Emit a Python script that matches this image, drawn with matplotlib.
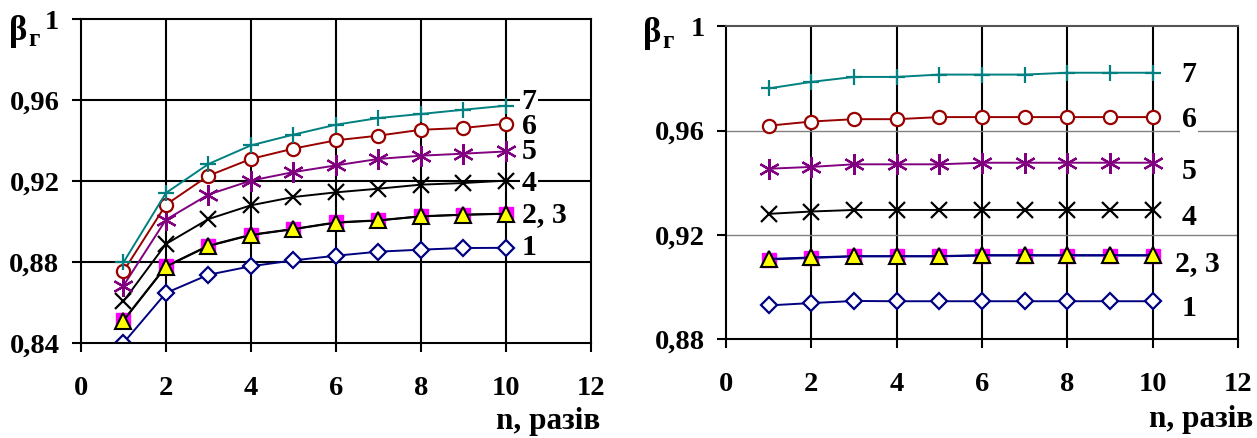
import matplotlib
matplotlib.use("Agg")
import matplotlib.pyplot as plt

plt.rcParams["font.family"] = ["Liberation Serif", "DejaVu Serif"]
plt.rcParams["font.weight"] = "bold"

n = [1, 2, 3, 4, 5, 6, 7, 8, 9, 10]

# left panel: beta_g vs n
left_1 = [0.840, 0.8647, 0.8737, 0.8779, 0.8808, 0.8831, 0.8851, 0.8861, 0.8869, 0.8870]
left_2 = [0.8512, 0.8779, 0.8881, 0.8935, 0.8963, 0.8996, 0.9006, 0.9026, 0.9034, 0.9039]
left_3 = [0.8510, 0.8777, 0.8879, 0.8933, 0.8962, 0.8994, 0.9005, 0.9025, 0.9033, 0.9038]
left_4 = [0.8606, 0.8889, 0.9012, 0.9080, 0.9121, 0.9144, 0.9162, 0.9182, 0.9190, 0.9202]
left_5 = [0.8683, 0.9009, 0.9133, 0.9202, 0.9244, 0.9277, 0.9309, 0.9325, 0.9335, 0.9346]
left_6 = [0.8754, 0.9083, 0.9226, 0.9309, 0.9360, 0.9401, 0.9424, 0.9453, 0.9462, 0.9483]
left_7 = [0.8798, 0.9141, 0.9284, 0.9376, 0.9429, 0.9478, 0.9511, 0.9531, 0.9552, 0.9572]

# right panel
right_1 = [0.8930, 0.8939, 0.8947, 0.8946, 0.8946, 0.8946, 0.8946, 0.8946, 0.8946, 0.8946]
right_2 = [0.9106, 0.9112, 0.9118, 0.9118, 0.9118, 0.9121, 0.9121, 0.9121, 0.9121, 0.9121]
right_3 = [0.9108, 0.9114, 0.9119, 0.9119, 0.9119, 0.9123, 0.9123, 0.9123, 0.9123, 0.9123]
right_4 = [0.9281, 0.9290, 0.9296, 0.9296, 0.9296, 0.9296, 0.9296, 0.9296, 0.9296, 0.9296]
right_5 = [0.9454, 0.9461, 0.9471, 0.9471, 0.9471, 0.9477, 0.9477, 0.9477, 0.9477, 0.9477]
right_6 = [0.9619, 0.9635, 0.9644, 0.9644, 0.9652, 0.9652, 0.9652, 0.9652, 0.9652, 0.9652]
right_7 = [0.9762, 0.9787, 0.9806, 0.9806, 0.9815, 0.9815, 0.9815, 0.9822, 0.9822, 0.9822]

curve_names = ["7", "6", "5", "4", "2, 3", "1"]
left_label_x = [10.37, 10.37, 10.37, 10.37, 10.37, 10.37]
left_label_y = [0.9592, 0.9468, 0.9344, 0.9189, 0.9032, 0.8873]
right_label_x = [10.68, 10.68, 10.68, 10.68, 10.52, 10.68]
right_label_y = [0.9814, 0.9641, 0.9443, 0.9266, 0.9091, 0.8920]

left_yticks = [0.84, 0.88, 0.92, 0.96, 1.0]
left_yticklabels = ["0,84", "0,88", "0,92", "0,96", "1"]
right_yticks = [0.88, 0.92, 0.96, 1.0]
right_yticklabels = ["0,88", "0,92", "0,96", "1"]
xticks = [0, 2, 4, 6, 8, 10, 12]

NAVY = "#000080"
MAGENTA = "#FF00FF"
PURPLE = "#800080"
DARKRED = "#990000"
TEAL = "#008080"
FS = 20.5


def draw_series(ax, s1, s2, s3, s4, s5, s6, s7, line23):
    lw = 1.4
    ax.plot(n, s1, color=NAVY, lw=lw, marker="D", ms=8.5, mfc="white", mec=NAVY, mew=1.6)
    ax.plot(n, s2, color=line23, lw=lw, marker="s", ms=10, mfc=MAGENTA, mec=MAGENTA)
    ax.plot(n, s3, color=line23, lw=lw, marker="^", ms=11.5, mfc="yellow", mec="black", mew=1.5)
    ax.plot(n, s4, color="black", lw=lw, marker="x", ms=11, mec="black", mew=1.6)
    ax.plot(n, s5, color=PURPLE, lw=lw, marker=(6, 2, 0), ms=15, mec=PURPLE, mew=1.6)
    ax.plot(n, s6, color=DARKRED, lw=lw, marker="o", ms=9.5, mfc="white", mec=DARKRED, mew=1.6)
    ax.plot(n, s7, color=TEAL, lw=lw, marker="+", ms=12, mec=TEAL, mew=1.6)


def style_axes(ax, yticks, yticklabels, ylo, hgrid_color, hgrid_lw, top_color):
    ax.set_xlim(0, 12)
    ax.set_ylim(ylo, 1.0)
    ax.set_xticks(xticks)
    ax.set_xticklabels([str(t) for t in xticks], fontsize=FS, fontweight="bold")
    ax.set_yticks(yticks)
    ax.set_yticklabels(yticklabels, fontsize=FS, fontweight="bold")
    ax.tick_params(axis="x", direction="out", length=6.5, width=1.5, pad=17)
    ax.tick_params(axis="y", direction="out", length=6.5, width=1.5, pad=9)
    for x in xticks[1:-1]:
        ax.axvline(x, color="black", lw=1.5, zorder=1)
    for y in yticks[1:-1]:
        ax.axhline(y, color=hgrid_color, lw=hgrid_lw, zorder=1)
    for side in ("left", "bottom", "right"):
        ax.spines[side].set_color("black")
        ax.spines[side].set_linewidth(1.5)
    ax.spines["top"].set_color(top_color)
    ax.spines["top"].set_linewidth(1.5)


def put_labels(ax, xs, ys, masked):
    for name, x, y, m in zip(curve_names, xs, ys, masked):
        box = None
        if m:
            box = dict(boxstyle="square,pad=0.05", facecolor="white", edgecolor="none")
        ax.text(x, y, name, fontsize=21.5, fontweight="bold", ha="left", va="center",
                zorder=5, bbox=box)


fig = plt.figure(figsize=(12.57, 4.38), dpi=100)
fig.patch.set_facecolor("white")

ax1 = fig.add_axes([0.0644, 0.2169, 0.4057, 0.7397])
style_axes(ax1, left_yticks, left_yticklabels, 0.84, "black", 1.5, "black")
draw_series(ax1, left_1, left_2, left_3, left_4, left_5, left_6, left_7, "black")
put_labels(ax1, left_label_x, left_label_y, [True, True, True, True, True, False])

ax2 = fig.add_axes([0.5776, 0.2253, 0.4073, 0.7146])
style_axes(ax2, right_yticks, right_yticklabels, 0.88, "#808080", 1.0, "#555555")
draw_series(ax2, right_1, right_2, right_3, right_4, right_5, right_6, right_7, NAVY)
put_labels(ax2, right_label_x, right_label_y, [True] * 6)

# y-axis titles: beta with Cyrillic subscript
fig.text(9 / 1257, 1 - 31 / 438, "β", fontsize=25, fontweight="bold", va="center")
fig.text(28 / 1257, 1 - 39 / 438, "г", fontsize=18, fontweight="bold", va="center")
fig.text(643 / 1257, 1 - 33 / 438, "β", fontsize=25, fontweight="bold", va="center")
fig.text(662 / 1257, 1 - 41 / 438, "г", fontsize=18, fontweight="bold", va="center")

# x-axis titles
fig.text(600 / 1257, 1 - 421 / 438, "n, разів", fontsize=22.5, fontweight="bold",
         ha="right", va="center")
fig.text(1253 / 1257, 1 - 419 / 438, "n, разів", fontsize=22.5, fontweight="bold",
         ha="right", va="center")

fig.savefig("out.png", dpi=100)
